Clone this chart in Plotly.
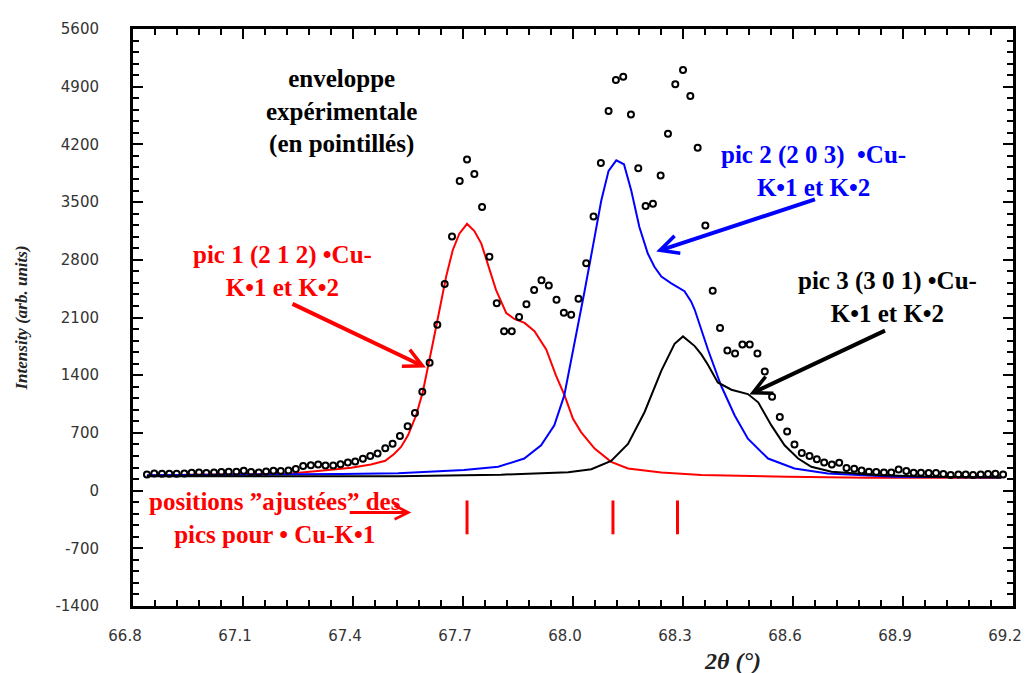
import plotly.graph_objects as go

# ---- experimental envelope (open circles) ----
two_theta = [66.838, 66.858, 66.879, 66.899, 66.919, 66.940, 66.960, 66.980, 67.000, 67.021,
             67.041, 67.061, 67.082, 67.102, 67.122, 67.143, 67.163, 67.183, 67.203, 67.224,
             67.244, 67.264, 67.285, 67.305, 67.325, 67.346, 67.366, 67.386, 67.406, 67.427,
             67.447, 67.467, 67.488, 67.508, 67.528, 67.549, 67.569, 67.589, 67.609, 67.630,
             67.650, 67.670, 67.691, 67.711, 67.731, 67.752, 67.772, 67.792, 67.812, 67.833,
             67.853, 67.873, 67.894, 67.914, 67.934, 67.955, 67.975, 67.995, 68.015, 68.036,
             68.056, 68.076, 68.097, 68.117, 68.137, 68.158, 68.178, 68.198, 68.218, 68.239,
             68.259, 68.279, 68.300, 68.320, 68.340, 68.361, 68.381, 68.401, 68.421, 68.442,
             68.462, 68.482, 68.503, 68.523, 68.543, 68.564, 68.584, 68.604, 68.624, 68.645,
             68.665, 68.685, 68.706, 68.726, 68.746, 68.767, 68.787, 68.807, 68.827, 68.848,
             68.868, 68.888, 68.909, 68.929, 68.949, 68.970, 68.990, 69.010, 69.030, 69.051,
             69.071, 69.091, 69.112, 69.132, 69.152, 69.173]
intensity = [196, 208, 205, 205, 205, 208, 217, 220, 213, 220,
             225, 229, 229, 241, 225, 220, 232, 241, 237, 244,
             261, 297, 309, 316, 304, 304, 321, 341, 353, 385,
             421, 449, 514, 569, 662, 782, 942, 1200, 1552, 2013,
             2507, 3084, 3755, 4016, 3842, 3442, 2836, 2274, 1934, 1934,
             2106, 2262, 2434, 2551, 2487, 2314, 2158, 2134, 2326, 2759,
             3325, 3975, 4605, 4982, 5022, 4564, 3911, 3454, 3481, 3823,
             4329, 4930, 5102, 4786, 4160, 3217, 2425, 1974, 1700, 1664,
             1773, 1773, 1664, 1444, 1140, 894, 716, 560, 457, 421,
             379, 341, 316, 337, 273, 265, 244, 229, 225, 220,
             220, 256, 237, 217, 217, 213, 213, 201, 189, 196,
             196, 189, 196, 201, 205, 196]

# ---- fitted peak 1 (2 1 2), red ----
pic1_x = [66.838, 66.950, 67.122, 67.231, 67.340, 67.395, 67.449, 67.488, 67.512, 67.531,
          67.550, 67.572, 67.590, 67.604, 67.618, 67.636, 67.654, 67.672, 67.690, 67.711,
          67.731, 67.750, 67.768, 67.790, 67.818, 67.840, 67.868, 67.895, 67.927, 67.954,
          67.977, 68.000, 68.022, 68.059, 68.104, 68.150, 68.241, 68.350, 68.586, 68.805,
          69.040, 69.168]
pic1_y = [180, 192, 199, 208, 253, 277, 316, 361, 445, 529,
          670, 911, 1191, 1472, 1793, 2194, 2596, 2916, 3117, 3237,
          3149, 2996, 2756, 2435, 2154, 2082, 2034, 1934, 1712, 1392,
          1155, 870, 710, 509, 349, 268, 220, 189, 168, 156,
          156, 156]

# ---- fitted peak 2 (2 0 3), blue ----
pic2_x = [66.838, 67.231, 67.368, 67.523, 67.703, 67.796, 67.867, 67.913, 67.949, 67.976,
          68.003, 68.022, 68.031, 68.054, 68.077, 68.097, 68.118, 68.139, 68.159, 68.181,
          68.204, 68.222, 68.241, 68.268, 68.304, 68.322, 68.332, 68.368, 68.404, 68.441,
          68.477, 68.532, 68.604, 68.695, 68.877, 69.168]
pic2_y = [186, 192, 201, 211, 249, 289, 389, 550, 791, 1152,
          1757, 2194, 2407, 2957, 3517, 3879, 4007, 3959, 3638, 3197,
          2876, 2716, 2596, 2515, 2419, 2295, 2194, 1712, 1272, 911,
          629, 389, 268, 208, 168, 160]

# ---- fitted peak 3 (3 0 1), black ----
pic3_x = [66.838, 67.523, 67.703, 67.804, 67.987, 68.050, 68.104, 68.150, 68.195, 68.241,
          68.277, 68.300, 68.332, 68.350, 68.368, 68.395, 68.432, 68.477, 68.505, 68.541,
          68.577, 68.614, 68.650, 68.705, 68.832, 68.968, 69.168]
pic3_y = [175, 175, 187, 193, 223, 259, 361, 566, 951, 1456,
          1781, 1871, 1753, 1652, 1528, 1312, 1224, 1171, 1071, 791,
          550, 389, 289, 229, 189, 168, 160]

# ---- fitted Cu-K alpha1 positions (red bars) ----
peak_positions = [67.711, 68.109, 68.285]
bar_top = -120
bar_bottom = -530

# ---- axis ticks ----
x_tick_vals = [66.8, 67.1, 67.4, 67.7, 68.0, 68.3, 68.6, 68.9, 69.2]
x_tick_text = ["66.8", "67.1", "67.4", "67.7", "68.0", "68.3", "68.6", "68.9", "69.2"]
y_tick_vals = [-1400, -700, 0, 700, 1400, 2100, 2800, 3500, 4200, 4900, 5600]
y_tick_text = ["-1400", "-700", "0", "700", "1400", "2100", "2800", "3500", "4200", "4900", "5600"]

fig = go.Figure()

fig.add_trace(go.Scatter(x=pic1_x, y=pic1_y, mode="lines",
                         line=dict(color="#ff0000", width=2), showlegend=False))
fig.add_trace(go.Scatter(x=pic2_x, y=pic2_y, mode="lines",
                         line=dict(color="#0000ff", width=2), showlegend=False))
fig.add_trace(go.Scatter(x=pic3_x, y=pic3_y, mode="lines",
                         line=dict(color="#000000", width=2), showlegend=False))
fig.add_trace(go.Scatter(x=two_theta, y=intensity, mode="markers",
                         marker=dict(symbol="circle-open", size=6, color="black",
                                     line=dict(width=2, color="black")),
                         showlegend=False))

bx, by = [], []
for p in peak_positions:
    bx += [p, p, None]
    by += [bar_top, bar_bottom, None]
fig.add_trace(go.Scatter(x=bx, y=by, mode="lines",
                         line=dict(color="#ff0000", width=3), showlegend=False))

serif = "Liberation Serif"
FS = 25
ann = []
ann.append(dict(x=67.368, y=4600, text="<b>enveloppe<br>expérimentale<br>(en pointillés)</b>",
                showarrow=False, font=dict(family=serif, size=FS, color="black"), align="center"))
ann.append(dict(x=67.209, y=2660, text="<b>pic 1 (2 1 2) •Cu-<br>K•1 et K•2</b>",
                showarrow=False, font=dict(family=serif, size=FS, color="#ff0000"), align="center"))
ann.append(dict(x=68.655, y=3875, text="<b>pic 2 (2 0 3)  •Cu-<br>K•1 et K•2</b>",
                showarrow=False, font=dict(family=serif, size=FS, color="#0000ff"), align="center"))
ann.append(dict(x=68.857, y=2345, text="<b>pic 3 (3 0 1) •Cu-<br>K•1 et K•2</b>",
                showarrow=False, font=dict(family=serif, size=FS, color="black"), align="center"))
ann.append(dict(x=67.187, y=-330, text="<b>positions \u201dajustées\u201d des<br>pics pour • Cu-K•1</b>",
                showarrow=False, font=dict(family=serif, size=FS, color="#ff0000"), align="center"))

# arrows
for (hx, hy, tx, ty, col, w) in [
        (67.599, 1492, 67.231, 2274, "#ff0000", 4),
        (68.227, 2900, 68.664, 3538, "#0000ff", 4),
        (68.481, 1167, 68.855, 1949, "black", 4),
        (67.559, -265, 67.387, -265, "#ff0000", 3)]:
    ann.append(dict(x=hx, y=hy, ax=tx, ay=ty, xref="x", yref="y", axref="x", ayref="y",
                    text="", showarrow=True, arrowhead=5, arrowsize=0.9,
                    arrowwidth=w, arrowcolor=col))

# page layout (the page adds a small offset around the figure)
W, H = 1033, 673
OFF = 7
L, R, T, B = 132 - OFF, 21 + OFF, 23 - OFF, 68 + OFF
pw, ph = W - L - R, H - T - B


def px_to_paper(px, py):
    return (px - OFF - L) / pw, (H - B - (py - OFF)) / ph


tx_, ty_ = px_to_paper(731, 660)
ann.append(dict(x=tx_, y=ty_, xref="paper", yref="paper", xanchor="center", yanchor="middle",
                text="<b><i>2θ (°)</i></b>", showarrow=False,
                font=dict(family=serif, size=24, color="#222")))
tx_, ty_ = px_to_paper(20, 315)
ann.append(dict(x=tx_, y=ty_, xref="paper", yref="paper", xanchor="center", yanchor="middle",
                text="<b><i>Intensity (arb. units)</i></b>", textangle=-90, showarrow=False,
                font=dict(family=serif, size=17, color="#222")))

fig.update_layout(
    width=W, height=H,
    margin=dict(l=L, r=R, t=T, b=B),
    paper_bgcolor="white", plot_bgcolor="white",
    annotations=ann,
    showlegend=False,
)

fig.update_xaxes(range=[66.8, 69.2], tickvals=x_tick_vals, ticktext=x_tick_text,
                 ticks="inside", ticklen=10, tickwidth=2, tickcolor="black",
                 minor=dict(ticks="inside", ticklen=6, tickwidth=1.5, tickcolor="black", dtick=0.06,
                            tick0=66.8, showgrid=False),
                 showline=True, linecolor="black", linewidth=3, mirror="allticks",
                 showgrid=False, zeroline=False,
                 tickfont=dict(family="DejaVu Sans", size=15, color="#333"),
                 ticklabelstandoff=14, ticklabelshift=-8)
fig.update_yaxes(range=[-1400, 5600], tickvals=y_tick_vals, ticktext=y_tick_text,
                 ticks="inside", ticklen=10, tickwidth=2, tickcolor="black",
                 minor=dict(ticks="inside", ticklen=6, tickwidth=1.5, tickcolor="black", dtick=140,
                            tick0=0, showgrid=False),
                 showline=True, linecolor="black", linewidth=3, mirror="allticks",
                 showgrid=False, zeroline=False,
                 tickfont=dict(family="DejaVu Sans", size=15, color="#333"),
                 ticklabelstandoff=28)

fig.write_html("out.html")
